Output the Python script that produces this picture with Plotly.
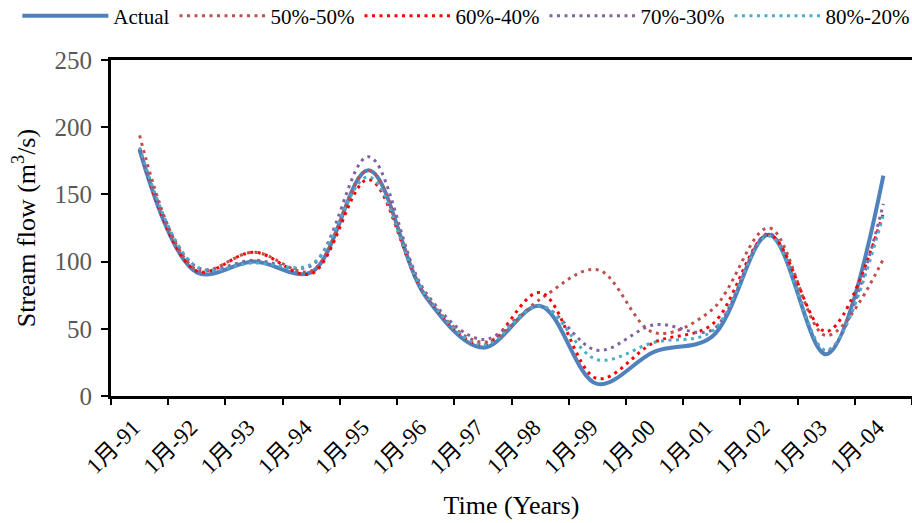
import plotly.graph_objects as go

categories = ["1月-91", "1月-92", "1月-93", "1月-94", "1月-95", "1月-96", "1月-97",
              "1月-98", "1月-99", "1月-00", "1月-01", "1月-02", "1月-03", "1月-04"]

actual = [183, 92, 100, 92, 168, 74, 36, 67, 9, 33, 44, 120, 31, 164]
s50_50 = [194, 94, 107, 93, 168, 75, 40, 72, 94, 47, 64, 125, 45, 102]
s60_40 = [184, 93, 107, 91, 161, 75, 38, 77, 13, 40, 53, 120, 48, 136]
s70_30 = [184, 96, 101, 97, 178, 77, 42, 67, 34, 53, 49, 121, 33, 143]
s80_20 = [185, 96, 99, 98, 163, 75, 38, 67, 27, 40, 48, 119, 34, 135]

series = [
    ("Actual", actual, "#4F81BD", 4, "solid"),
    ("50%-50%", s50_50, "#C0504D", 3, "3px,4.5px"),
    ("60%-40%", s60_40, "#FF0000", 3, "3px,4.5px"),
    ("70%-30%", s70_30, "#8064A2", 3, "3px,4.5px"),
    ("80%-20%", s80_20, "#4BACC6", 3, "3px,4.5px"),
]

FONT = "Liberation Serif, 'Times New Roman', 'Noto Sans CJK SC', serif"

fig = go.Figure()
for name, vals, color, w, dash in series:
    fig.add_trace(go.Scatter(
        x=categories, y=vals, name=name, mode="lines",
        line=dict(color=color, width=w, dash=dash, shape="spline", smoothing=1),
    ))

fig.update_layout(
    width=912, height=523,
    margin=dict(l=111, r=0, t=60, b=127, autoexpand=False),
    paper_bgcolor="white", plot_bgcolor="white",
    font=dict(family=FONT, color="black"),
    legend=dict(
        orientation="h",
        x=-0.1169, y=1.131, xanchor="left", yanchor="middle",
        font=dict(size=21, color="black", family=FONT),
        itemwidth=86, tracegroupgap=0,
    ),
    xaxis=dict(
        type="category", categoryorder="array", categoryarray=categories,
        range=[-0.5, 13.5], tickson="boundaries", automargin=False,
        ticks="outside", ticklen=6, tickwidth=2, tickcolor="black",
        showline=True, linecolor="black", linewidth=3, mirror=True,
        showgrid=False, zeroline=False, tickangle=-45,
        ticklabelstandoff=6, ticklabelshift=-6,
        tickfont=dict(size=23, color="#000000", family=FONT),
        title=dict(text="Time (Years)", standoff=18, font=dict(size=26, family=FONT)),
    ),
    yaxis=dict(
        range=[0, 250], dtick=50, tick0=0, automargin=False,
        ticks="outside", ticklen=7, tickwidth=2, tickcolor="black",
        showline=True, linecolor="black", linewidth=3,
        showgrid=False, zeroline=False, ticklabelstandoff=4,
        tickfont=dict(size=25, color="#595959", family=FONT),
        title=dict(text="Stream flow (m<sup>3</sup>/s)", standoff=12, font=dict(size=26, family=FONT)),
    ),
)

fig.write_html("out.html", post_script="document.body.style.margin='0';",
               config={"displayModeBar": False})
